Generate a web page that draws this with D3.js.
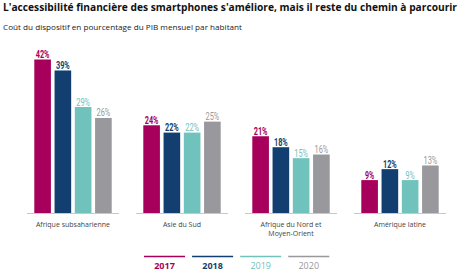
<!DOCTYPE html>
<html>
  <head>
    <meta charset="utf-8">
    <title>Smartphones</title>
    <style>
      body { margin: 0; background: #fff; }
      svg { display: block; }
    </style>
  </head>
  <body>
    <div id="vis"></div>
    <script src="https://d3js.org/d3.v7.min.js"></script>
    <script>
    // data
    let regions = ["Afrique subsaharienne", "Asie du Sud", "Afrique du Nord et|Moyen-Orient", "Amérique latine"];
    let years = ["2017", "2018", "2019", "2020"];
    let v2017 = [42, 24, 21, 9];
    let v2018 = [39, 22, 18, 12];
    let v2019 = [29, 22, 15, 9];
    let v2020 = [26, 25, 16, 13];
    let series = [v2017, v2018, v2019, v2020];
    let colors = ["#a6005c", "#123f6f", "#70c2bc", "#98989d"];
    let bold = [true, true, false, false];

    let w = 460, h = 273;
    let base = 213;

    let svg = d3.select("#vis").append("svg")
                .attr("width", w)
                .attr("height", h);

    // title + subtitle
    svg.append("text")
       .attr("x", 3).attr("y", 11)
       .attr("textLength", 454).attr("lengthAdjust", "spacingAndGlyphs")
       .style("font-family", "'Open Sans', sans-serif")
       .style("font-weight", "bold").style("font-size", "10.2px")
       .style("fill", "#111")
       .text("L'accessibilité financière des smartphones s'améliore, mais il reste du chemin à parcourir");

    svg.append("text")
       .attr("x", 3).attr("y", 30)
       .attr("textLength", 239).attr("lengthAdjust", "spacingAndGlyphs")
       .style("font-family", "'Open Sans', sans-serif")
       .style("font-size", "8px")
       .style("fill", "#222")
       .text("Coût du dispositif en pourcentage du PIB mensuel par habitant");

    let x0 = d3.scaleBand().domain(d3.range(regions.length))
               .range([27, 446]).paddingInner(0.156).paddingOuter(0);
    let x1 = d3.scaleBand().domain(d3.range(years.length))
               .range([7.3, x0.bandwidth() - 7.3]).paddingInner(0.18).paddingOuter(0);
    let y = d3.scaleLinear().domain([0, 42]).range([base, 59.5]);

    let groups = svg.selectAll("g.grp").data(regions).enter().append("g")
        .attr("class", "grp")
        .attr("transform", function(d, i) { return "translate(" + x0(i) + ",0)"; });

    groups.append("line")
        .attr("x1", 0).attr("x2", x0.bandwidth())
        .attr("y1", base + 0.5).attr("y2", base + 0.5)
        .style("stroke", "#c8c8c8");

    groups.each(function(r, gi) {
      let g = d3.select(this);
      let vals = series.map(function(s) { return s[gi]; });
      g.selectAll("rect").data(vals).enter().append("rect")
        .attr("x", function(d, i) { return x1(i); })
        .attr("y", function(d) { return y(d); })
        .attr("width", x1.bandwidth())
        .attr("height", function(d) { return base - y(d); })
        .style("fill", function(d, i) { return colors[i]; });
      // condensed value labels
      g.selectAll("text.val").data(vals).enter().append("text")
        .attr("class", "val")
        .attr("x", function(d, i) { return x1(i) + x1.bandwidth() / 2; })
        .attr("y", function(d) { return y(d) - 1.5; })
        .attr("text-anchor", "middle")
        .attr("textLength", function(d) { return (d + "%").length * 4.6; })
        .attr("lengthAdjust", "spacingAndGlyphs")
        .style("font-family", "'Roboto', sans-serif")
        .style("font-weight", function(d, i) { return bold[i] ? "bold" : "normal"; })
        .style("font-size", "10px")
        .style("fill", function(d, i) { return colors[i]; })
        .text(function(d) { return d + "%"; });
      let lines = r.split("|");
      g.selectAll("text.cat").data(lines).enter().append("text")
        .attr("class", "cat")
        .attr("x", x0.bandwidth() / 2)
        .attr("y", function(d, i) { return 226.5 + i * 9.5; })
        .attr("text-anchor", "middle")
        .style("font-family", "'Open Sans', sans-serif")
        .style("font-size", "7px")
        .style("fill", "#444")
        .text(function(d) { return d; });
    });

    // legend
    let lx = d3.scaleBand().domain(years).range([144, 329.3]).paddingInner(0.146);
    let leg = svg.selectAll("g.leg").data(years).enter().append("g")
        .attr("class", "leg")
        .attr("transform", function(d) { return "translate(" + lx(d) + ",0)"; });
    leg.append("line")
        .attr("x1", 0).attr("x2", lx.bandwidth())
        .attr("y1", 256.5).attr("y2", 256.5)
        .style("stroke", function(d, i) { return colors[i]; })
        .style("stroke-width", 1.6);
    leg.append("text")
        .attr("x", lx.bandwidth() / 2).attr("y", 269)
        .attr("text-anchor", "middle")
        .style("font-family", "'Open Sans', sans-serif")
        .style("font-weight", function(d, i) { return bold[i] ? "bold" : "normal"; })
        .style("font-size", "9px")
        .style("fill", function(d, i) { return colors[i]; })
        .text(function(d) { return d; });
    </script>
  </body>
</html>
